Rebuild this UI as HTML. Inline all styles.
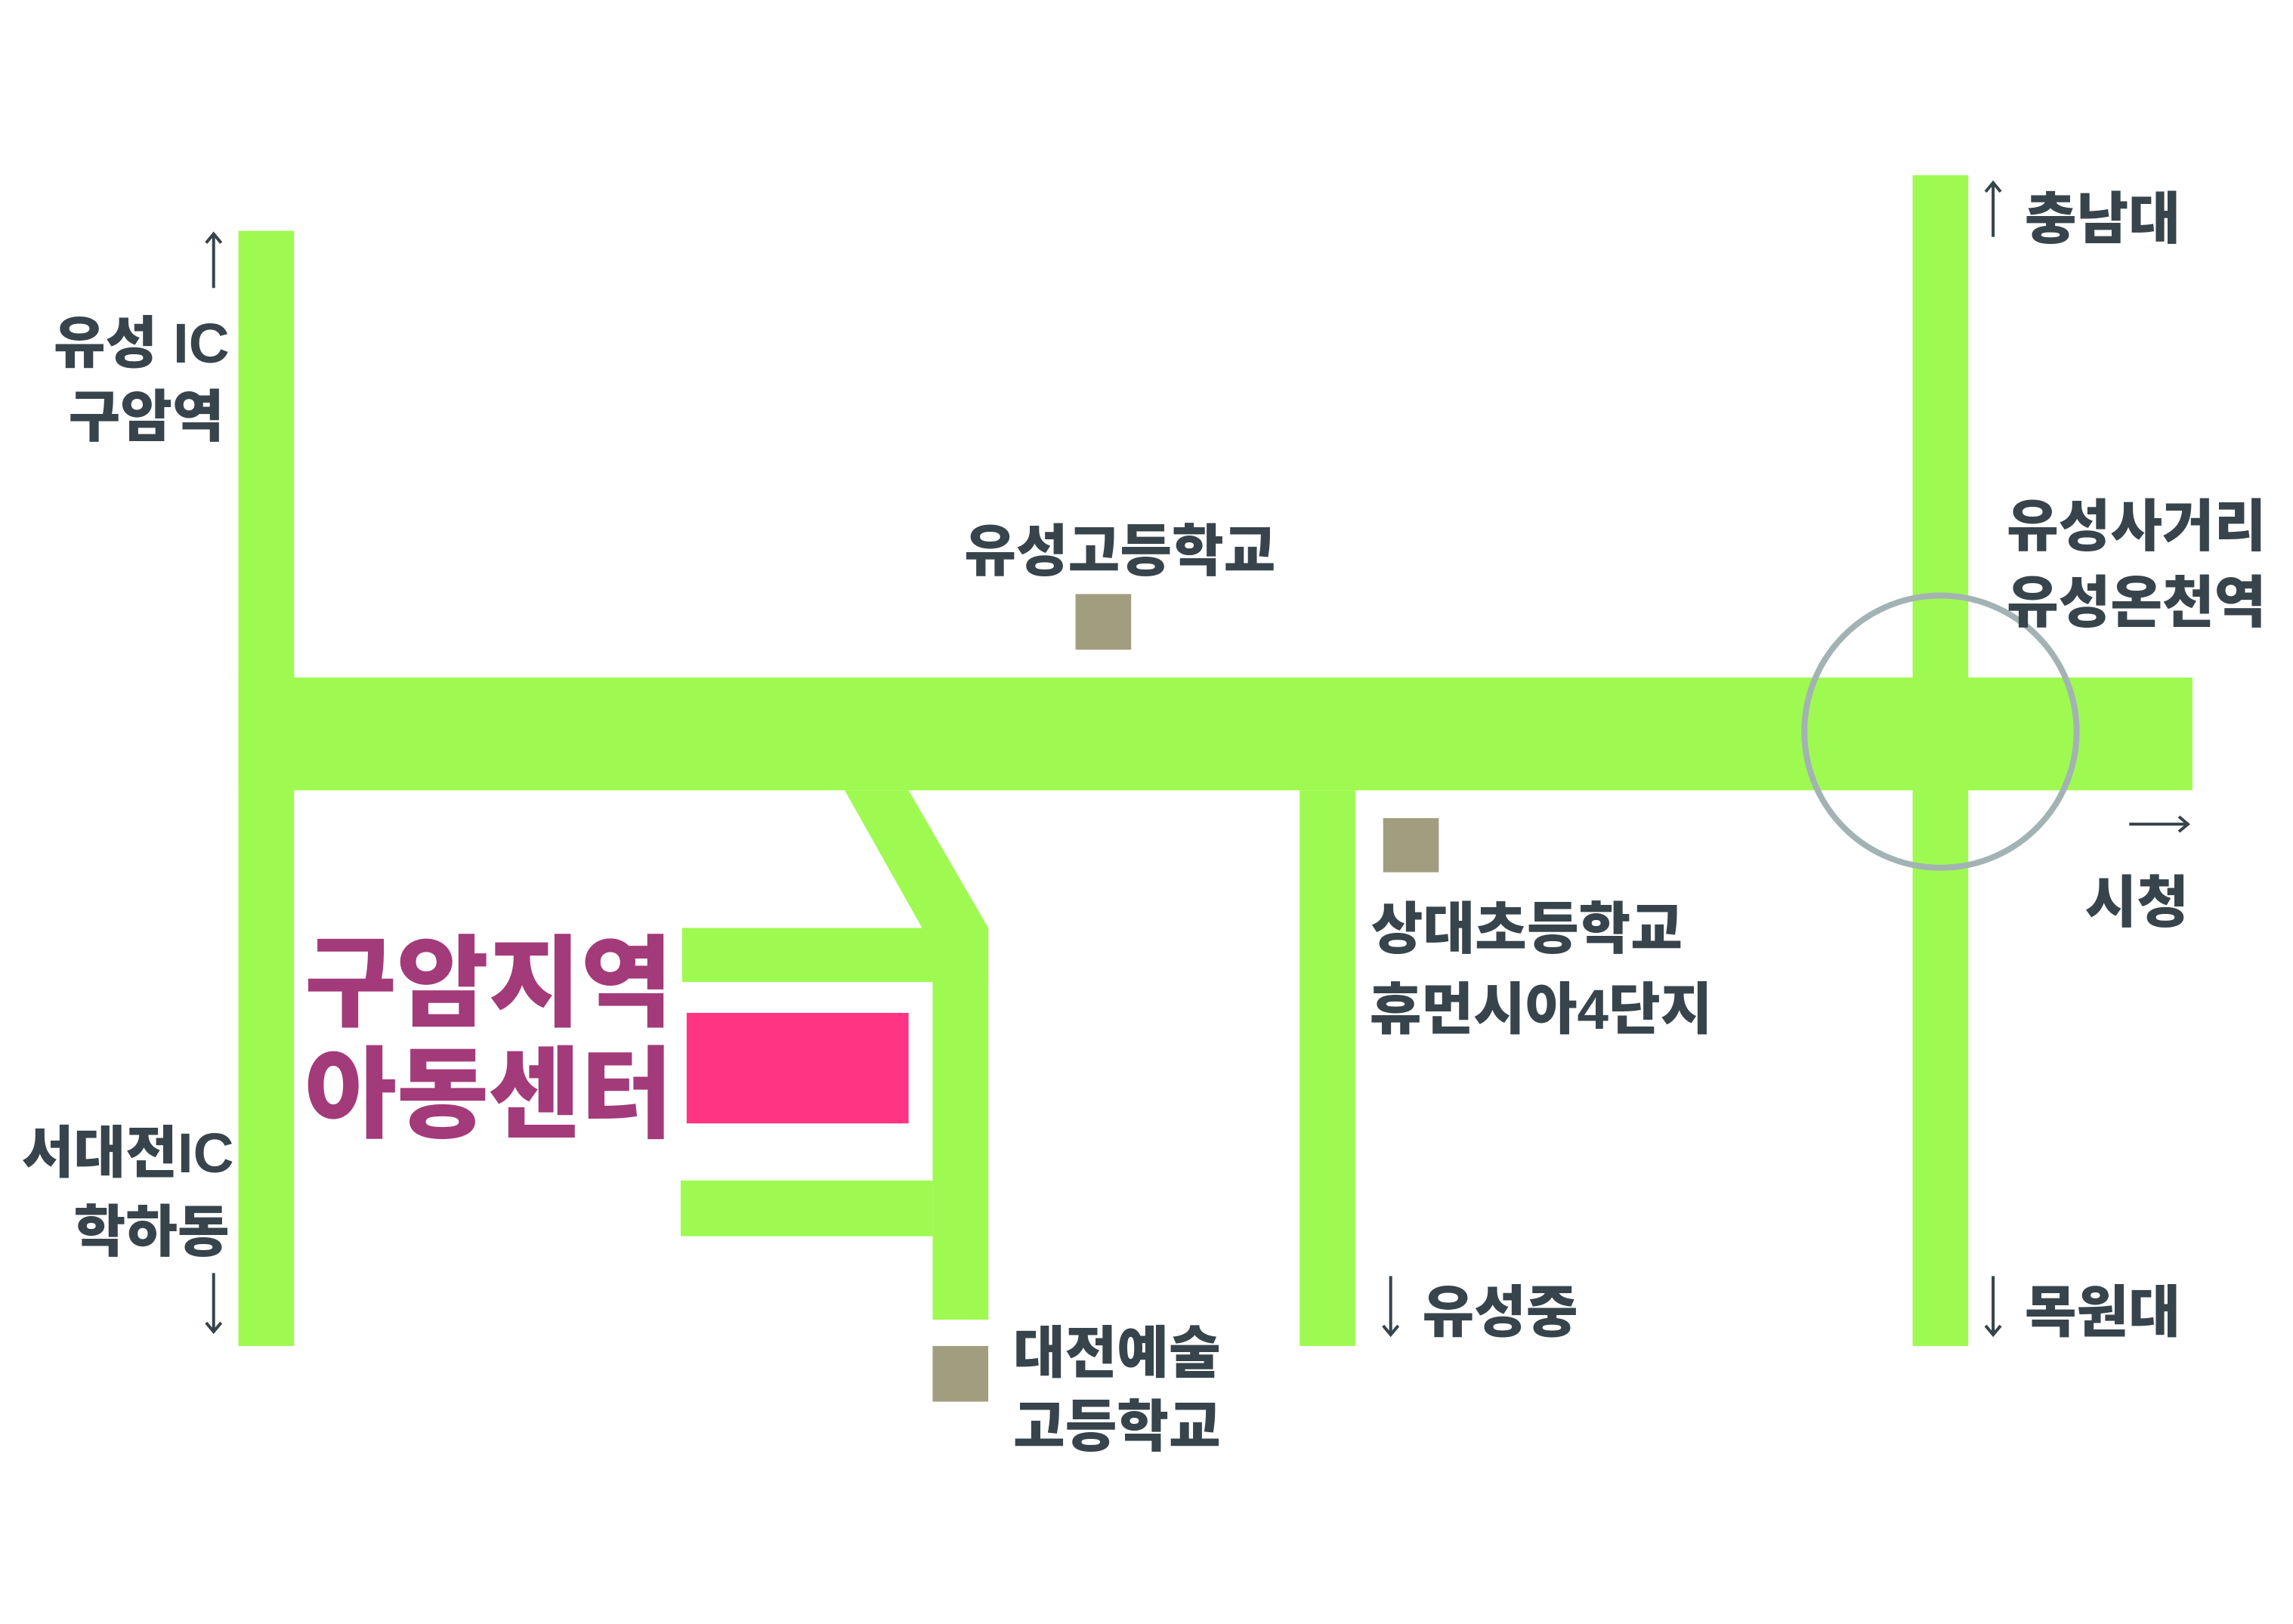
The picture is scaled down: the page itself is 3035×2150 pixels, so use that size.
<!DOCTYPE html>
<html><head><meta charset="utf-8"><style>
html,body{margin:0;padding:0;background:#fff;}
svg{display:block;}
text{font-family:"Liberation Sans","Noto Sans CJK KR",sans-serif;font-weight:900;}
</style></head><body>
<svg width="3035" height="2150" viewBox="0 0 3035 2150" xmlns="http://www.w3.org/2000/svg">
<rect width="3035" height="2150" fill="#fff"/>
<g transform="scale(0.9955)">
<g fill="#9efa50">
<rect x="317" y="307" width="74" height="1483"/>
<rect x="317" y="901" width="2598" height="150"/>
<polygon points="1123,1051 1208,1051 1314,1234 1226,1234"/>
<rect x="1240" y="1234" width="74" height="521"/>
<rect x="907" y="1234" width="407" height="72"/>
<rect x="905" y="1570" width="335" height="74"/>
<rect x="1728" y="1051" width="74" height="739"/>
<rect x="2543" y="233" width="74" height="1557"/>
</g>
<rect x="913" y="1347" width="295" height="147" fill="#ff3482"/>
<g fill="#a19e80">
<rect x="1240" y="1790" width="74" height="74"/>
<rect x="1839" y="1088" width="74" height="72"/>
<rect x="1430" y="790" width="74" height="74"/>
</g>
<circle cx="2580" cy="973" r="181" fill="none" stroke="#a3b3b3" stroke-width="8"/>
<g stroke="#37444b" stroke-width="4" fill="none">
<path d="M284 383V311M274 323L284 311L294 323"/>
<path d="M284 1693V1771M274 1759L284 1771L294 1759"/>
<path d="M2650 315V243M2640 255L2650 243L2660 255"/>
<path d="M2650 1697V1775M2640 1763L2650 1775L2660 1763"/>
<path d="M1849 1697V1775M1839 1763L1849 1775L1859 1763"/>
<path d="M2831 1096H2909M2897 1086L2909 1096L2897 1106"/>
</g>
<g fill="#37444b" font-size="75">
<text x="305" y="482" text-anchor="end">유성 IC</text>
<text x="298" y="580" text-anchor="end">구암역</text>
<text x="1282" y="759">유성고등학교</text>
<text x="2668" y="726">유성사거리</text>
<text x="2668" y="827">유성온천역</text>
<text x="2692" y="317">충남대</text>
<text x="2910" y="1226" text-anchor="end">시청</text>
<text x="1823" y="1261">상대초등학교</text>
<text x="1821" y="1368">휴먼시아4단지</text>
<text x="1891" y="1771">유성중</text>
<text x="2692" y="1771">목원대</text>
<text x="311" y="1559" text-anchor="end">서대전IC</text>
<text x="305" y="1664" text-anchor="end">학하동</text>
<text x="1347" y="1825">대전예술</text>
<text x="1347" y="1923">고등학교</text>
</g>
<g fill="#a33a7a" font-size="133">
<text x="405" y="1354">구암지역</text>
<text x="405" y="1502">아동센터</text>
</g>
</g>
</svg>
</body></html>
